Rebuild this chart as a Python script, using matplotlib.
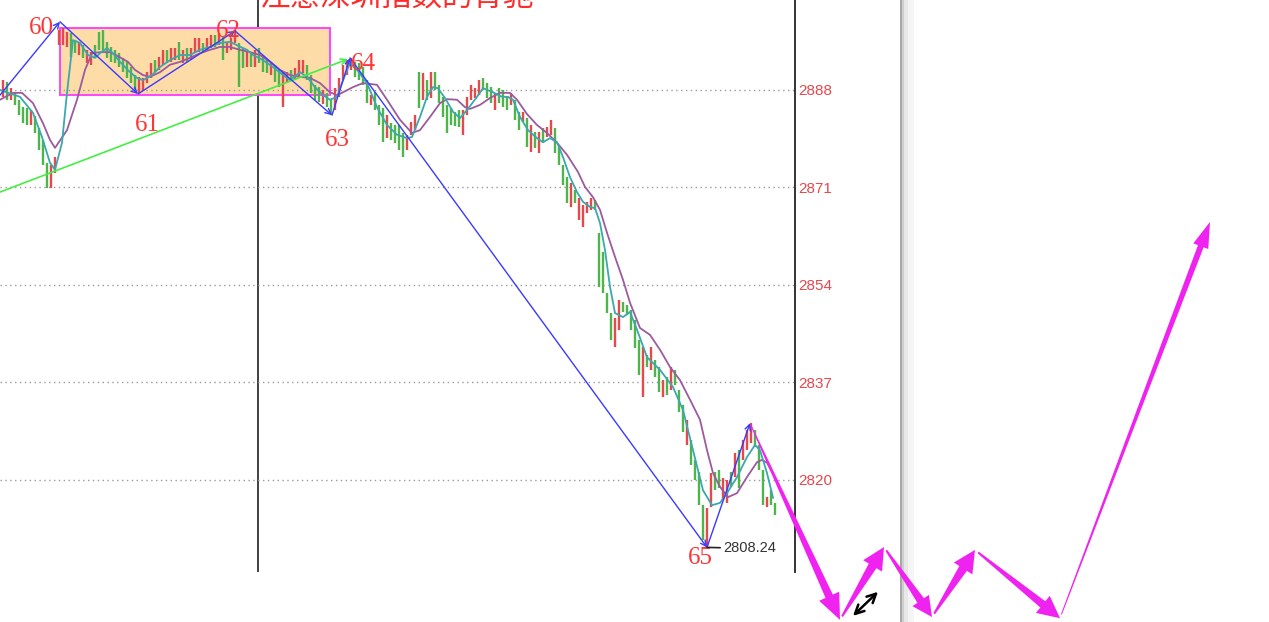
import numpy as np
import matplotlib
matplotlib.use("Agg")
import matplotlib.pyplot as plt
from matplotlib.patches import Polygon, Rectangle

# ---- BAR DATA (one entry per bar, left to right) ---- #
highs = [
    2889.7, 2889.4, 2888.3, 2887.6, 2886.3, 2885.0, 2884.9, 2884.5, 2883.5, 2881.4,
    2879.3, 2875.3, 2874.9, 2876.3, 2898.5, 2898.8, 2898.1, 2897.9, 2896.7, 2896.4,
    2895.8, 2895.0, 2894.6, 2895.8, 2898.1, 2898.5, 2896.4, 2895.5, 2895.0, 2894.4,
    2893.6, 2892.9, 2892.0, 2890.6, 2890.3, 2890.1, 2891.1, 2892.7, 2893.2, 2893.7,
    2895.0, 2895.0, 2895.3, 2895.3, 2896.4, 2895.0, 2895.3, 2895.3, 2897.1, 2897.1,
    2896.2, 2897.1, 2897.6, 2897.6, 2897.9, 2897.2, 2896.4, 2897.1, 2898.5, 2896.2,
    2895.3, 2894.6, 2894.4, 2895.0, 2895.3, 2894.1, 2893.2, 2892.9, 2892.4, 2891.5,
    2891.1, 2891.1, 2891.5, 2891.8, 2893.2, 2893.2, 2892.4, 2890.6, 2888.9, 2888.5,
    2888.0, 2887.5, 2886.3, 2888.3, 2890.1, 2892.4, 2893.2, 2893.6, 2892.9, 2892.7,
    2892.0, 2889.7, 2887.1, 2887.6, 2885.4, 2884.9, 2883.6, 2882.2, 2881.9, 2881.9,
    2880.5, 2880.2, 2882.4, 2883.6, 2891.1, 2891.0, 2889.7, 2891.1, 2891.1, 2888.9,
    2886.8, 2885.4, 2884.9, 2884.2, 2884.5, 2884.5, 2886.8, 2888.9, 2888.3, 2889.7,
    2890.1, 2889.2, 2888.5, 2887.5, 2888.3, 2888.0, 2886.8, 2887.5, 2886.3, 2884.2,
    2884.2, 2883.1, 2881.9, 2880.7, 2880.7, 2881.4, 2881.5, 2882.8, 2881.4, 2878.1,
    2874.9, 2872.8, 2871.8, 2870.6, 2869.2, 2867.9, 2868.5, 2869.2, 2868.8, 2863.1,
    2859.8, 2852.6, 2849.1, 2848.2, 2851.4, 2851.0, 2850.5, 2849.6, 2847.9, 2844.4,
    2843.2, 2841.8, 2843.2, 2840.9, 2839.7, 2837.4, 2838.0, 2839.7, 2839.2, 2835.7,
    2833.1, 2830.5, 2827.0, 2823.5, 2821.4, 2815.6, 2815.1, 2821.2, 2821.4, 2821.7,
    2820.3, 2820.0, 2821.4, 2824.7, 2825.2, 2827.0, 2828.7, 2829.9, 2828.7, 2826.1,
    2821.7, 2817.0, 2818.2, 2816.0,
]
lows = [
    2886.8, 2886.3, 2886.3, 2885.4, 2883.6, 2882.2, 2881.9, 2881.9, 2880.5, 2877.5,
    2874.9, 2870.9, 2870.9, 2873.5, 2895.8, 2895.8, 2895.5, 2893.7, 2894.4, 2894.1,
    2893.6, 2892.7, 2892.4, 2893.6, 2895.0, 2894.4, 2893.6, 2892.9, 2892.7, 2892.0,
    2891.1, 2890.1, 2889.2, 2888.0, 2887.3, 2888.0, 2889.2, 2890.1, 2891.1, 2891.5,
    2892.4, 2892.7, 2892.9, 2893.2, 2893.2, 2892.7, 2892.9, 2893.2, 2894.4, 2894.6,
    2894.4, 2895.0, 2895.3, 2895.5, 2895.8, 2893.2, 2894.4, 2895.0, 2896.2, 2888.5,
    2891.8, 2892.0, 2892.0, 2892.0, 2892.7, 2891.1, 2891.0, 2890.6, 2889.4, 2888.5,
    2885.0, 2889.2, 2889.7, 2889.7, 2890.3, 2891.0, 2889.7, 2887.5, 2886.3, 2885.9,
    2885.6, 2885.0, 2883.6, 2884.5, 2886.8, 2889.7, 2890.6, 2891.5, 2890.3, 2889.7,
    2888.9, 2885.7, 2885.4, 2884.5, 2881.9, 2878.9, 2879.6, 2879.3, 2878.8, 2877.5,
    2876.3, 2877.5, 2880.2, 2881.0, 2884.9, 2886.3, 2886.3, 2886.6, 2888.0, 2885.7,
    2883.3, 2880.5, 2881.9, 2881.7, 2881.5, 2880.2, 2883.6, 2886.3, 2886.6, 2887.1,
    2888.0, 2886.6, 2885.7, 2884.5, 2885.7, 2885.0, 2884.5, 2885.4, 2882.8, 2881.0,
    2882.4, 2878.1, 2877.2, 2877.9, 2877.0, 2878.8, 2879.8, 2880.2, 2877.0, 2874.9,
    2871.4, 2868.3, 2867.6, 2868.3, 2865.3, 2864.1, 2866.6, 2867.1, 2867.1, 2853.6,
    2852.6, 2849.1, 2844.4, 2843.2, 2846.2, 2849.3, 2848.8, 2846.2, 2843.0, 2838.3,
    2834.5, 2839.7, 2839.2, 2838.0, 2835.3, 2834.5, 2834.8, 2835.7, 2836.6, 2831.9,
    2828.4, 2826.1, 2822.6, 2820.0, 2815.6, 2809.5, 2808.24, 2815.3, 2818.2, 2818.6,
    2816.5, 2816.0, 2818.8, 2820.5, 2818.6, 2823.5, 2825.2, 2826.4, 2825.8, 2821.7,
    2815.6, 2815.3, 2815.6, 2813.9,
]
# r = up bar, g = down bar
bar_dir = ("rgrggggrgg" "ggrrrrrggr" "grrggggggg" "ggggrrrrgr" "rgrrgrgrrr"
           "grrgrgrrrg" "grgrgggrgg" "rrgrrrgggg" "rggrrrrrgg" "ggrgggrggg"
           "grrrgrgrgg" "gggggrrrrr" "gggrgggrgg" "rgrgrgrrgg" "ggrgrrrrgg"
           "gggrrggggg" "rgrggrgrgg" "grggggrrgg" "rrgrgrrrgg" "grgg")

# ---- MOVING AVERAGES (bar position, value) ---- #
ma_fast_x = [-0.75, 4.25, 7.5, 9.75, 11.75, 13, 14.75, 16, 17.5, 19.25, 21.25, 23, 24.25,
             26, 27.5, 29.25, 31.75, 33.5, 35, 37.25, 39.25, 41.75, 44.25, 46.75, 49.25,
             51.75, 54.25, 56.75, 58.5, 61, 62.5, 65, 67.5, 70, 71.75, 74.25, 76, 78, 80,
             81.75, 83.5, 85, 86.75, 88.5, 91, 93.5, 96, 98.5, 101, 102.25, 104.25, 106,
             107.5, 108.75, 110.5, 112.5, 114.25, 116, 118.5, 120, 122.5, 124.75, 126.25,
             127.5, 129.25, 131.25, 133.5, 135, 136.75, 138.5, 140, 141.75, 143.5, 145,
             146.75, 148, 149.25, 150.5, 151.75, 153, 155, 156.75, 158.5, 161, 164.25,
             167.5, 170, 172.5, 175, 177.25, 179.25, 181, 183.5, 186, 188, 189.25, 191,
             192.5]
ma_fast = [2888.0, 2886.8, 2884.0, 2879.8, 2875.3, 2874.1, 2878.8, 2887.5, 2896.7, 2896.2,
           2894.1, 2893.6, 2894.4, 2895.3, 2894.4, 2892.9, 2891.1, 2890.1, 2889.7, 2890.6,
           2892.0, 2893.2, 2894.1, 2894.1, 2895.0, 2895.5, 2896.2, 2896.4, 2895.8, 2895.0,
           2894.1, 2893.2, 2892.0, 2890.6, 2889.7, 2891.1, 2890.3, 2888.5, 2887.1, 2886.3,
           2886.8, 2889.7, 2892.7, 2891.5, 2889.2, 2885.0, 2881.9, 2880.2, 2879.6, 2879.8,
           2883.3, 2886.8, 2888.5, 2888.3, 2886.6, 2884.2, 2883.1, 2884.5, 2886.8, 2888.3,
           2887.6, 2886.8, 2886.8, 2886.3, 2883.3, 2881.0, 2879.6, 2878.9, 2879.6, 2878.9,
           2876.3, 2872.8, 2870.2, 2868.5, 2867.6, 2867.4, 2864.8, 2860.1, 2853.7, 2849.1,
           2848.4, 2849.3, 2846.2, 2841.4, 2839.2, 2836.2, 2832.2, 2825.2, 2818.2, 2815.6,
           2816.0, 2817.7, 2820.5, 2824.0, 2826.1, 2825.2, 2821.2, 2816.9]
ma_slow_x = [-0.75, 2.5, 4.75, 7.5, 10, 11.75, 13, 16, 18.5, 20.5, 22.25, 24.25, 26.75,
             29.25, 31.25, 33, 35, 36.75, 39.25, 41.75, 44.25, 46.75, 49.25, 51.75, 54.25,
             56.75, 59.25, 61.75, 64.25, 66.75, 69.25, 71.75, 74.25, 76.75, 79.25, 81.75,
             83.5, 85, 87.5, 90, 93.5, 96, 99.25, 102.25, 104.25, 106.75, 109.25, 111,
             113.5, 115.5, 116.75, 119.25, 121.75, 124.25, 126.75, 128.5, 131, 133.5, 136,
             138.5, 141, 143.75, 145.5, 147.5, 149.25, 151, 153, 155, 156.75, 159.25,
             161.75, 164.25, 166.75, 169.25, 171.75, 174.25, 176, 177.5, 179.25, 181.25,
             183.5, 186, 188.5, 189.75, 191, 192.25]
ma_slow = [2886.3, 2887.5, 2887.5, 2885.7, 2882.2, 2879.3, 2877.9, 2881.0, 2886.3, 2891.5,
           2894.4, 2894.6, 2894.6, 2893.7, 2892.9, 2891.5, 2890.6, 2890.3, 2891.1, 2892.4,
           2892.9, 2893.6, 2894.4, 2895.0, 2895.5, 2895.5, 2895.0, 2894.6, 2894.1, 2892.9,
           2891.5, 2890.6, 2890.3, 2890.1, 2889.2, 2887.6, 2887.1, 2887.6, 2888.5, 2889.2,
           2888.9, 2886.3, 2882.8, 2880.5, 2881.0, 2883.3, 2885.7, 2886.4, 2886.3, 2885.0,
           2884.7, 2885.4, 2886.6, 2887.5, 2887.5, 2886.3, 2883.8, 2881.9, 2880.5, 2878.8,
           2876.7, 2873.7, 2871.1, 2869.3, 2867.1, 2863.1, 2858.9, 2854.9, 2850.9, 2846.5,
           2845.3, 2842.7, 2839.7, 2837.4, 2834.0, 2830.5, 2825.2, 2821.2, 2818.8, 2817.0,
           2817.7, 2820.5, 2823.1, 2823.5, 2823.0, 2821.4]

# ---- WAVE PIVOTS ---- #
pivot_x = [-0.75, 14.25, 33.75, 58, 82.25, 86.75, 176, 186.75]
pivot_y = [2887.1, 2899.9, 2887.3, 2898.3, 2883.6, 2893.6, 2808.24, 2829.9]
pivot_names = ["", "60", "61", "62", "63", "64", "65", ""]
trend_x = [-0.75, 86.25]
trend_y = [2870.2, 2893.4]
box_x = [14.25, 81.75]
box_y = [2887.1, 2898.8]
divider_x = 63.8

# ---- PROJECTED PATH (drawn as magenta arrows) ---- #
proj_x = [186.75, 209.25, 220.25, 232.25, 243.0, 264.25, 301.75]
proj_y = [2829.9, 2795.6, 2808.3, 2796.1, 2807.8, 2795.9, 2865.0]

yticks = [2820, 2837, 2854, 2871, 2888]

RED = "#E5484D"
GREEN = "#4DB54A"

fig = plt.figure(figsize=(12.69, 6.22), dpi=100)
ax = fig.add_axes([0, 50 / 622, 795 / 1269, 572 / 622])
ax.set_xlim(-0.75, 198.0)
ax.set_ylim(2803.95, 2903.69)

for s in ["left", "top", "bottom"]:
    ax.spines[s].set_visible(False)
ax.spines["right"].set_color("#333333")
ax.spines["right"].set_linewidth(1.4)
ax.set_xticks([])
ax.yaxis.tick_right()
ax.set_yticks(yticks)
ax.set_yticklabels([str(v) for v in yticks], color=RED, fontsize=11,
                   family="Liberation Sans")
ax.tick_params(axis="y", length=0, pad=2)
ax.grid(axis="y", color="#9A9A9A", linestyle=(0, (1, 2.5)), linewidth=1, zorder=0)
ax.axvline(divider_x, color="#333333", lw=1.3, zorder=1)

# consolidation box
ax.add_patch(Rectangle((box_x[0], box_y[0]), box_x[1] - box_x[0], box_y[1] - box_y[0],
                       facecolor="#FDDCA8", edgecolor="#FF44FF", lw=1.4, zorder=1))

# bars
idx = np.arange(len(highs))
cols = [RED if c == "r" else GREEN for c in bar_dir]
ax.vlines(idx, lows, highs, colors=cols, lw=1.7, zorder=2)

# moving averages
ax.plot(ma_slow_x, ma_slow, color="#9B5B9E", lw=1.3, zorder=3)
ax.plot(ma_fast_x, ma_fast, color="#3AA8AE", lw=1.3, zorder=3)

# trend line
ax.annotate("", xy=(trend_x[1], trend_y[1]), xytext=(trend_x[0], trend_y[0]),
            arrowprops=dict(arrowstyle="->", color="#44EE44", lw=1.2,
                            shrinkA=0, shrinkB=0), zorder=4)

# wave zigzag
for k in range(len(pivot_x) - 1):
    ax.annotate("", xy=(pivot_x[k + 1], pivot_y[k + 1]), xytext=(pivot_x[k], pivot_y[k]),
                arrowprops=dict(arrowstyle="->", color="#3A3AFF", lw=1.0,
                                shrinkA=0, shrinkB=0), zorder=4)

# wave labels
offsets = {"60": (-19, -6), "61": (9, -31), "62": (-7, 0), "63": (5, -25),
           "64": (13, -6), "65": (-7, -11)}
for px, py, name in zip(pivot_x, pivot_y, pivot_names):
    if name:
        ax.annotate(name, xy=(px, py), xytext=offsets[name], textcoords="offset pixels",
                    ha="center", va="center", color="#FF3535", fontsize=18,
                    family="Liberation Serif", zorder=5)

# low price tag
ax.annotate("2808.24", xy=(pivot_x[6], pivot_y[6]), xytext=(16, -1),
            textcoords="offset pixels", ha="left", va="center", fontsize=10.5,
            color="#333333", family="Liberation Sans",
            arrowprops=dict(arrowstyle="-", color="#222222", lw=1.2, shrinkA=0, shrinkB=0),
            zorder=5)


def fat_arrow(p0, p1, w0, w1, hw, hl, gap):
    t = ax.transData
    a = t.transform(p0)
    b = t.transform(p1)
    d = (b - a) / np.hypot(*(b - a))
    n = np.array([-d[1], d[0]])
    a = a + d * gap
    base = b - d * hl
    pts = [a + n * w0 / 2, base + n * w1 / 2, base + n * hw / 2, b,
           base - n * hw / 2, base - n * w1 / 2, a - n * w0 / 2]
    pts = t.inverted().transform(np.array(pts))
    ax.add_patch(Polygon(pts, closed=True, facecolor="#F022F0", edgecolor="none",
                         clip_on=False, zorder=6))


styles = [(1, 8, 22, 26, 2), (2, 9, 22, 22, 4), (2, 8, 20, 20, 4),
          (2, 9, 22, 22, 4), (2, 8, 22, 22, 4), (1, 6, 16, 26, 4)]
for k, (w0, w1, hw, hl, gap) in enumerate(styles):
    fat_arrow((proj_x[k], proj_y[k]), (proj_x[k + 1], proj_y[k + 1]), w0, w1, hw, hl, gap)

# resize cursor
ax.annotate("", xy=(218.75, 2800.5), xytext=(212.5, 2796.3),
            arrowprops=dict(arrowstyle="<->", color="black", lw=1.8, shrinkA=0, shrinkB=0,
                            mutation_scale=16),
            annotation_clip=False, zorder=6)

# panel edge shadow (kept under the axes content)
for x0, w, c in [(900, 2, "#A8A8A8"), (902, 2, "#CFCFCF"), (904, 4, "#E8E8E8"),
                 (908, 6, "#F5F5F5")]:
    fig.patches.append(Rectangle((x0 / 1269, 0), w / 1269, 1, transform=fig.transFigure,
                                 facecolor=c, edgecolor="none", zorder=-1))

fig.text(260 / 1269, 1 - 6 / 622, "注意深圳指数的背驰", fontsize=22, color="#FF2A2A",
         family=["Noto Sans CJK SC", "DejaVu Sans"], va="baseline", ha="left")

plt.savefig("out.png", dpi=100)
